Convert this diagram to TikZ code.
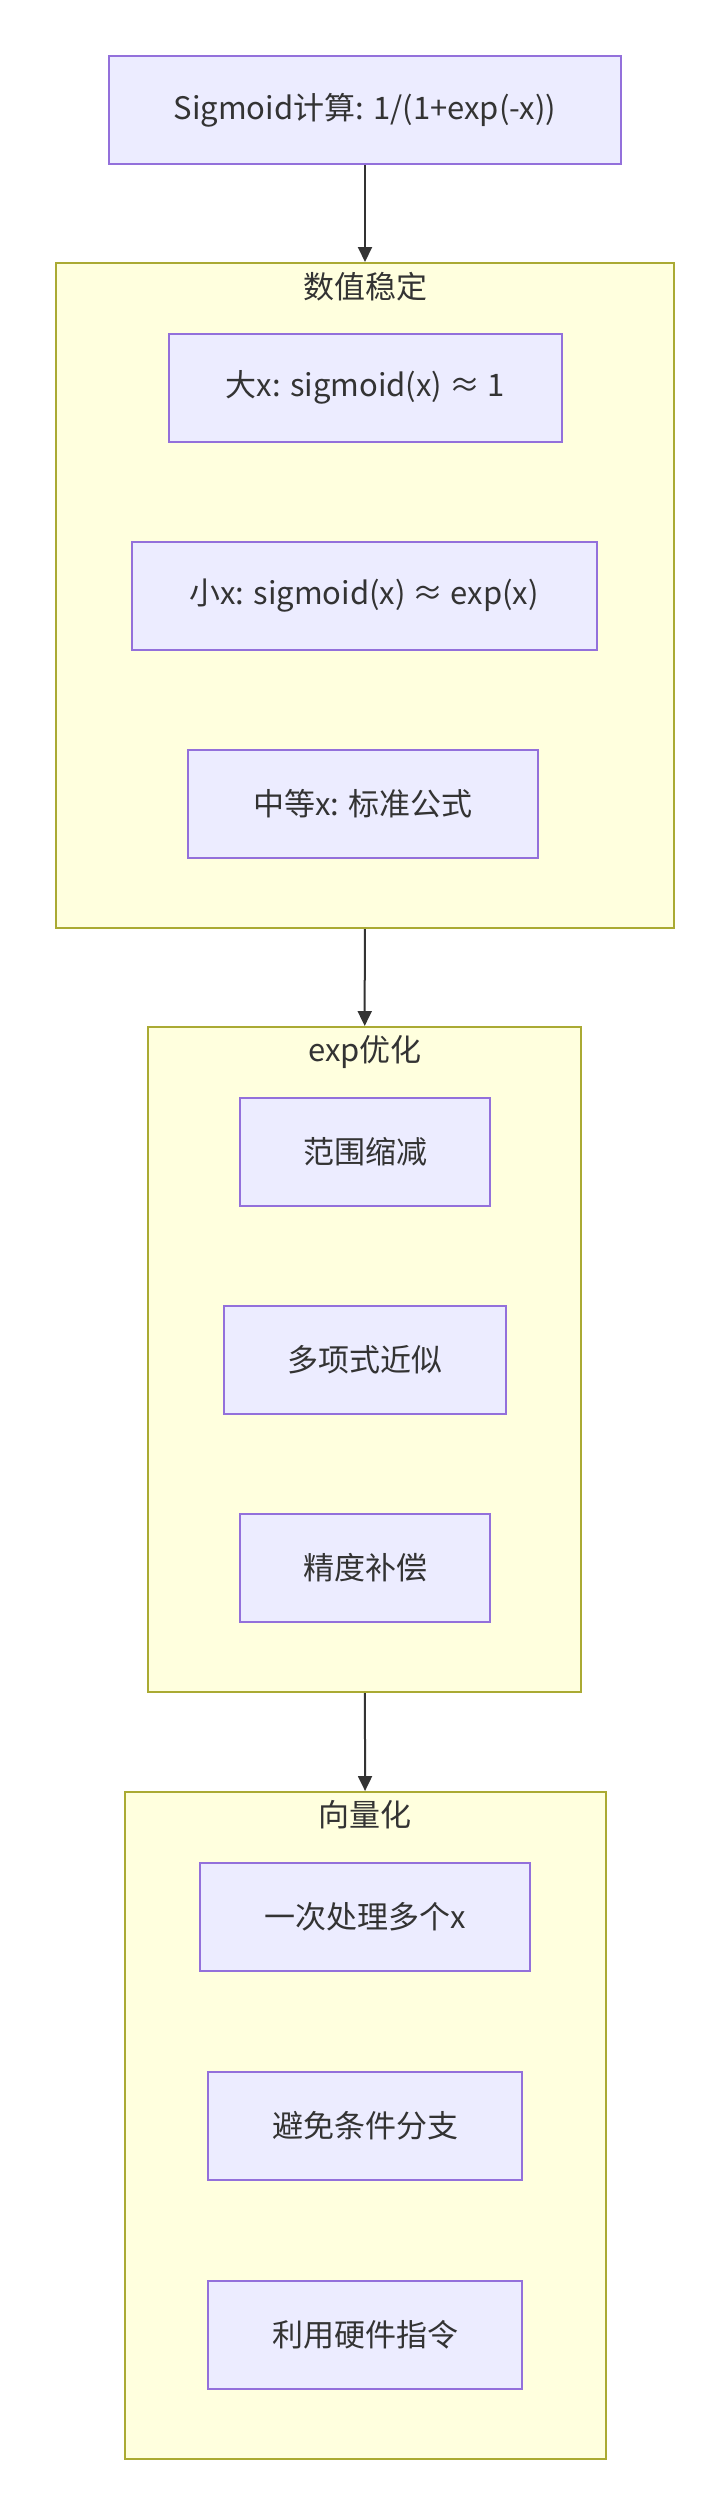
\documentclass[tikz,border=0pt]{standalone}
\usepackage{fontspec}
\setmainfont{Noto Sans CJK SC}
\usetikzlibrary{arrows.meta}
\definecolor{boxfill}{HTML}{ECECFF}
\definecolor{boxline}{HTML}{9370DB}
\definecolor{groupfill}{HTML}{FFFFDE}
\definecolor{groupline}{HTML}{AAAA33}
\definecolor{inktext}{HTML}{333333}
\tikzset{
  stepbox/.style={draw=boxline, fill=boxfill, line width=2pt, minimum height=108pt, inner sep=0pt, text=inktext, font=\fontsize{31}{37}\selectfont},
  groupbox/.style={draw=groupline, fill=groupfill, line width=2pt, inner sep=0pt},
  grouptitle/.style={text=inktext, font=\fontsize{31}{37}\selectfont},
  flow/.style={draw=inktext, line width=2pt, -{Triangle[length=15pt,width=14pt]}}
}

\begin{document}
\begin{tikzpicture}[x=1pt, y=-1pt]
			%%%%% START %%%%%
			\useasboundingbox (0, 0) rectangle (726, 2511);
			
			\node[stepbox, minimum width=512pt] (sigmoid) at (365, 110) {Sigmoid计算: 1/(1+exp(-x))};
			
			% 数值稳定
			\node[groupbox, minimum width=618pt, minimum height=665pt] (stable) at (365, 595.5) {};
			\node[grouptitle] (stabletitle) at (365, 287) {数值稳定};
			\node[stepbox, minimum width=393pt] (bigx) at (365, 387.5) {大x: sigmoid(x) ≈ 1};
			\node[stepbox, minimum width=465pt] (smallx) at (364, 595.5) {小x: sigmoid(x) ≈ exp(x)};
			\node[stepbox, minimum width=350pt] (midx) at (363, 803.5) {中等x: 标准公式};
			
			% exp优化
			\node[groupbox, minimum width=433pt, minimum height=665pt] (expopt) at (364.5, 1359.5) {};
			\node[grouptitle] (expopttitle) at (365, 1052) {exp优化};
			\node[stepbox, minimum width=250pt] (range) at (365, 1152) {范围缩减};
			\node[stepbox, minimum width=282pt] (poly) at (365, 1360) {多项式近似};
			\node[stepbox, minimum width=250pt] (precise) at (365, 1568) {精度补偿};
			
			% 向量化
			\node[groupbox, minimum width=481pt, minimum height=667pt] (vector) at (365.5, 2125.5) {};
			\node[grouptitle] (vectortitle) at (365, 1815) {向量化};
			\node[stepbox, minimum width=330pt] (batch) at (365, 1916.5) {一次处理多个x};
			\node[stepbox, minimum width=314pt] (nobranch) at (365, 2125.5) {避免条件分支};
			\node[stepbox, minimum width=314pt] (hardware) at (365, 2334.5) {利用硬件指令};
			
			\draw[flow] (sigmoid) -- (stable);
			\draw[flow] (stable) -- (expopt);
			\draw[flow] (expopt) -- (vector);
			
			%%%%% END %%%%%
		\end{tikzpicture}
\end{document}
